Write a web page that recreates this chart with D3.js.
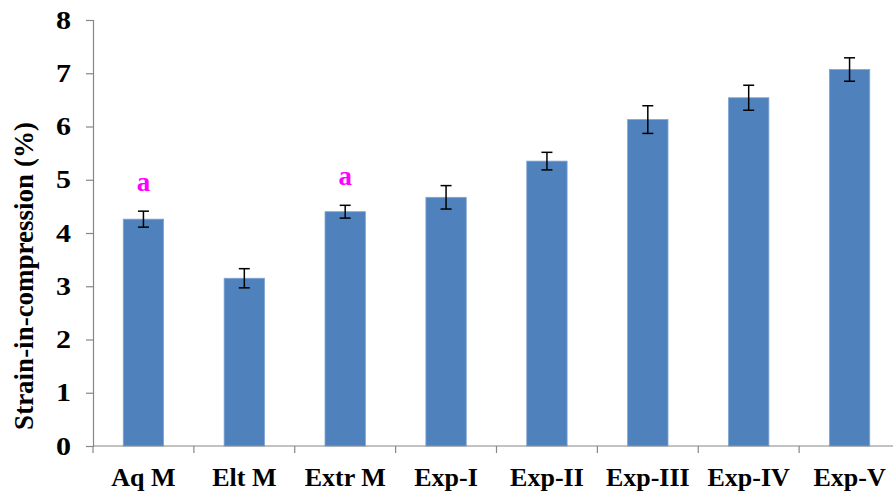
<!DOCTYPE html>
<html>
<head>
<meta charset="utf-8">
<script src="https://cdn.jsdelivr.net/npm/d3@7/dist/d3.min.js"></script>
<style>
  html, body { margin: 0; padding: 0; background: #fff; }
  svg { display: block; }
</style>
</head>
<body>
<svg id="chart" width="893" height="496"></svg>
<script>
const categories = ["Aq M", "Elt M", "Extr M", "Exp-I", "Exp-II", "Exp-III", "Exp-IV", "Exp-V"];
const values = [4.26, 3.15, 4.40, 4.67, 5.35, 6.13, 6.54, 7.07];
const errors = [0.15, 0.18, 0.12, 0.22, 0.165, 0.26, 0.235, 0.22];
const letters = ["a", "", "a", "", "", "", "", ""];
const yTicks = [0, 1, 2, 3, 4, 5, 6, 7, 8];
const yTitle = "Strain-in-compression (%)";

const svg = d3.select("#chart");
const font = "'Liberation Serif', 'Times New Roman', serif";

const x = d3.scaleBand().domain(categories).range([93, 900]).paddingInner(0.6).paddingOuter(0.3);
const y = d3.scaleLinear().domain([0, 8]).range([446, 20]);

// Bars
svg.append("g").selectAll("rect").data(categories).join("rect")
  .attr("x", d => x(d))
  .attr("width", x.bandwidth())
  .attr("y", (d, i) => y(values[i]))
  .attr("height", (d, i) => y(0) - y(values[i]))
  .attr("fill", "#4F81BD")
  .attr("stroke", "#7FA3D3")
  .attr("stroke-width", 0.8);

// Error bars
const eg = svg.append("g").attr("stroke", "#000").attr("stroke-width", 1.5);
categories.forEach((c, i) => {
  const cx = x(c) + x.bandwidth() / 2;
  const yt = y(values[i] + errors[i]);
  const yb = y(values[i] - errors[i]);
  eg.append("line").attr("x1", cx).attr("x2", cx).attr("y1", yt).attr("y2", yb);
  eg.append("line").attr("x1", cx - 5.5).attr("x2", cx + 5.5).attr("y1", yt).attr("y2", yt);
  eg.append("line").attr("x1", cx - 5.5).attr("x2", cx + 5.5).attr("y1", yb).attr("y2", yb);
});

// Letters
svg.append("g").selectAll("text").data(categories).join("text")
  .attr("x", d => x(d) + x.bandwidth() / 2)
  .attr("y", (d, i) => y(values[i] + errors[i]) - 20)
  .attr("text-anchor", "middle")
  .attr("font-family", font)
  .attr("font-weight", "bold")
  .attr("font-size", 27)
  .attr("fill", "#FF00FF")
  .text((d, i) => letters[i]);

// Y axis
const sx = 1.2;
const yAxis = svg.append("g").attr("transform", "translate(93,0)")
  .call(d3.axisLeft(y).tickValues(yTicks).tickSize(7).tickPadding(15).tickFormat(d3.format("d")));
yAxis.select(".domain").attr("stroke", "#868686").attr("stroke-width", 1.2);
yAxis.selectAll(".tick line").attr("stroke", "#868686").attr("stroke-width", 1.2);
yAxis.selectAll(".tick text")
  .attr("font-family", font).attr("font-weight", "bold").attr("font-size", 25).attr("fill", "#000")
  .attr("x", -22 / sx)
  .attr("transform", `scale(${sx},1)`);

// X axis
const boundaries = categories.map(c => x(c) - x.step() * x.paddingInner() / 2);
const xg = svg.append("g");
xg.append("line").attr("x1", 93).attr("x2", 900).attr("y1", 446).attr("y2", 446)
  .attr("stroke", "#868686").attr("stroke-width", 1.2);
xg.selectAll("line.tk").data(boundaries).join("line").attr("class", "tk")
  .attr("x1", d => d).attr("x2", d => d).attr("y1", 446).attr("y2", 453)
  .attr("stroke", "#868686").attr("stroke-width", 1.2);
xg.selectAll("text").data(categories).join("text")
  .attr("x", d => x(d) + x.bandwidth() / 2)
  .attr("y", 486)
  .attr("text-anchor", "middle")
  .attr("font-family", font).attr("font-weight", "bold").attr("font-size", 26)
  .text(d => d);

// Y title
svg.append("text")
  .attr("transform", "translate(33,276) rotate(-90)")
  .attr("text-anchor", "middle")
  .attr("font-family", font).attr("font-weight", "bold").attr("font-size", 27)
  .text(yTitle);
</script>
</body>
</html>
